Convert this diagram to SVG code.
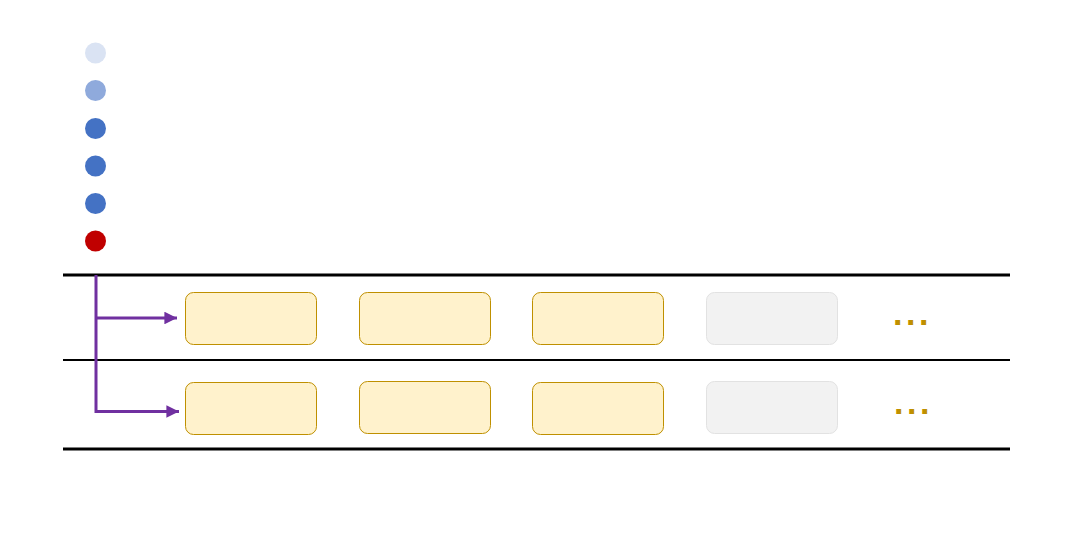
<svg xmlns="http://www.w3.org/2000/svg" width="1079" height="537" viewBox="0 0 1079 537">
<style>
.box{fill:#FFF2CC;stroke:#BF9000;stroke-width:1}
.gbox{fill:#F2F2F2;stroke:#E2E2E2;stroke-width:1}
.dots{font-family:"Liberation Sans",Arial,sans-serif;font-size:34px;font-weight:bold;fill:#BF9000;letter-spacing:3.5px}
.conn{fill:none;stroke:#7030A0;stroke-width:3}
</style>
<defs>
<marker id="arr" viewBox="0 0 10 10" refX="10" refY="5" markerWidth="4.2" markerHeight="4.2" orient="auto" markerUnits="strokeWidth">
<path d="M0,0 L10,5 L0,10 z" fill="#7030A0"/>
</marker>
</defs>
<rect width="1079" height="537" fill="#fff"/>
<g id="legend">
<circle cx="95.5" cy="53" r="10.5" fill="#DAE3F3"/>
<circle cx="95.5" cy="90.5" r="10.5" fill="#8FAADC"/>
<circle cx="95.5" cy="128.5" r="10.5" fill="#4472C4"/>
<circle cx="95.5" cy="166" r="10.5" fill="#4472C4"/>
<circle cx="95.5" cy="203.5" r="10.5" fill="#4472C4"/>
<circle cx="95.5" cy="241" r="10.5" fill="#C00000"/>
</g>
<g id="lanes">
<line x1="63" y1="275" x2="1010" y2="275" stroke="#000" stroke-width="3"/>
<line x1="63" y1="360" x2="1010" y2="360" stroke="#000" stroke-width="2"/>
<line x1="63" y1="449" x2="1010" y2="449" stroke="#000" stroke-width="3"/>
</g>
<g id="connectors">
<path class="conn" d="M96,275 L96,411.5 L179,411.5" marker-end="url(#arr)"/>
<path class="conn" d="M96,318 L177,318" marker-end="url(#arr)"/>
</g>
<g id="r1b1"><rect class="box" x="185.5" y="292.5" width="131" height="52" rx="8"/></g>
<g id="r1b2"><rect class="box" x="359.5" y="292.5" width="131" height="52" rx="8"/></g>
<g id="r1b3"><rect class="box" x="532.5" y="292.5" width="131" height="52" rx="8"/></g>
<g id="r1b4"><rect class="gbox" x="706.5" y="292.5" width="131" height="52" rx="8"/></g>
<g id="r1dots"><text class="dots" x="893" y="325">...</text></g>
<g id="r2b1"><rect class="box" x="185.5" y="382.5" width="131" height="52" rx="8"/></g>
<g id="r2b2"><rect class="box" x="359.5" y="381.5" width="131" height="52" rx="8"/></g>
<g id="r2b3"><rect class="box" x="532.5" y="382.5" width="131" height="52" rx="8"/></g>
<g id="r2b4"><rect class="gbox" x="706.5" y="381.5" width="131" height="52" rx="8"/></g>
<g id="r2dots"><text class="dots" x="894" y="414">...</text></g>
</svg>
